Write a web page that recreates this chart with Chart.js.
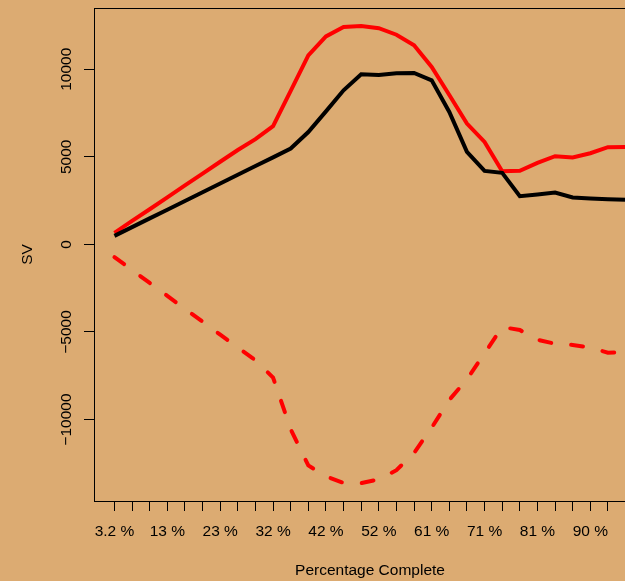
<!DOCTYPE html>
<html>
<head>
<meta charset="utf-8">
<script src="https://cdn.jsdelivr.net/npm/chart.js@4"></script>
<style>
  html, body { margin: 0; padding: 0; background: #DCAB72; overflow: hidden; }
  canvas { display: block; }
</style>
</head>
<body>
<canvas id="graficaSV" width="680" height="581"></canvas>
<script>
// posiciones en el eje x (indice de cada punto)
const posiciones = [1, 2, 3, 4, 5, 6, 7, 8, 9, 10, 11, 12, 13, 14, 15, 16, 17, 18, 19, 20, 21, 22, 23, 24, 25, 26, 27, 28, 29, 30];

// etiquetas del eje x (solo algunas posiciones llevan texto)
const posEtiquetas = [1, 4, 7, 10, 13, 16, 19, 22, 25, 28];
const textoEtiquetas = ["3.2 %", "13 %", "23 %", "32 %", "42 %", "52 %", "61 %", "71 %", "81 %", "90 %"];

const ticksY = [-10000, -5000, 0, 5000, 10000];

// series
const svNegro = [490, 988, 1486, 1984, 2482, 2980, 3478, 3976, 4474, 4972, 5475, 6420, 7600, 8800, 9712,
  9675, 9770, 9790, 9370, 7563, 5282, 4200, 4085, 2755, 2850, 2965, 2680, 2623, 2583, 2545];
const svRojo = [662, 1340, 2010, 2690, 3370, 4040, 4720, 5390, 6010, 6750, 8770, 10800, 11880, 12410, 12470,
  12350, 11975, 11370, 10130, 8530, 6900, 5850, 4180, 4200, 4655, 5036, 4960, 5207, 5550, 5566];
const svRojoDiscontinuo = [-724, -1460, -2200, -2940, -3680, -4410, -5150, -5890, -6617, -7600, -10550, -12620, -13250, -13615, -13633,
  -13415, -12890, -11903, -10460, -8880, -7700, -6218, -4716, -4888, -5440, -5670, -5740, -5896, -6180, -6150];

function puntos(valores) {
  return valores.map((v, i) => ({ x: posiciones[i], y: v }));
}

// caja alrededor del area del grafico (estilo R)
const cajaPlugin = {
  id: "caja",
  afterDraw(chart) {
    const { ctx, chartArea: a } = chart;
    ctx.save();
    ctx.strokeStyle = "#000";
    ctx.lineWidth = 1;
    ctx.strokeRect(Math.round(a.left) + 0.5, Math.round(a.top) + 0.5, Math.round(a.right - a.left), Math.round(a.bottom - a.top));
    ctx.restore();
  },
};

const fuente = { family: "'Liberation Sans', Arial, sans-serif", size: 15.5 };

const ctx = document.getElementById("graficaSV").getContext("2d");
new Chart(ctx, {
  type: "line",
  data: {
    datasets: [
      {
        data: puntos(svNegro),
        borderColor: "#000000",
        borderWidth: 4,
        pointRadius: 0,
        tension: 0,
        fill: false,
      },
      {
        data: puntos(svRojo),
        borderColor: "#FF0000",
        borderWidth: 4,
        pointRadius: 0,
        tension: 0,
        fill: false,
      },
      {
        data: puntos(svRojoDiscontinuo),
        borderColor: "#FF0000",
        borderWidth: 4,
        borderDash: [12, 20],
        borderCapStyle: "round",
        pointRadius: 0,
        tension: 0,
        fill: false,
      },
    ],
  },
  options: {
    responsive: false,
    animation: false,
    devicePixelRatio: 1,
    layout: { padding: { top: 8, right: 34, bottom: 0, left: 0 } },
    plugins: {
      legend: { display: false },
      tooltip: { enabled: false },
    },
    scales: {
      x: {
        type: "linear",
        min: -0.16,
        max: 31.16,
        afterFit: (s) => { s.height = 80; },
        afterBuildTicks: (s) => { s.ticks = posiciones.map((v) => ({ value: v })); },
        border: { display: false },
        grid: { drawOnChartArea: false, drawTicks: true, tickLength: 10, tickColor: "#000" },
        ticks: {
          autoSkip: false,
          maxRotation: 0,
          minRotation: 0,
          padding: 11,
          color: "#000",
          font: fuente,
          callback: (value) => {
            const k = posEtiquetas.indexOf(value);
            return k >= 0 ? textoEtiquetas[k] : "";
          },
        },
        title: { display: true, text: "Percentage Complete", color: "#000", font: fuente, padding: { top: 0, bottom: 1 } },
      },
      y: {
        type: "linear",
        min: -14650,
        max: 13500,
        afterFit: (s) => { s.width = 94; },
        afterBuildTicks: (s) => { s.ticks = ticksY.map((v) => ({ value: v })); },
        border: { display: false },
        grid: { drawOnChartArea: false, drawTicks: true, tickLength: 10, tickColor: "#000" },
        ticks: {
          minRotation: 90,
          maxRotation: 90,
          crossAlign: "center",
          padding: -9,
          color: "#000",
          font: fuente,
          callback: (value) => String(value).replace("-", "\u2212"),
        },
        title: { display: true, text: "SV", color: "#000", font: fuente, padding: { top: 18, bottom: 0 } },
      },
    },
  },
  plugins: [cajaPlugin],
});
</script>
</body>
</html>
